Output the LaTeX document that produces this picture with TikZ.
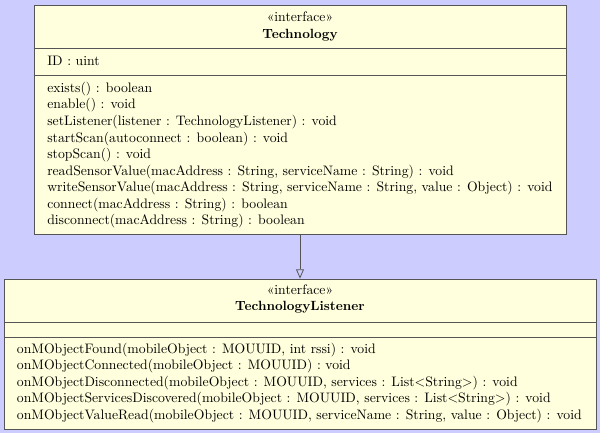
\documentclass[tikz,border=0pt]{standalone}
\usepackage{fontspec}
\usetikzlibrary{arrows.meta}

\definecolor{umlbg}{RGB}{204,204,255}
\definecolor{umlfill}{RGB}{255,255,221}
\definecolor{umlline}{RGB}{85,85,85}

\tikzset{
  umlbox/.style={draw=umlline, fill=umlfill, inner sep=0pt, semithick},
  umlrule/.style={draw=umlline, semithick},
  umlhead/.style={inner sep=0pt, anchor=base},
  umltext/.style={inner sep=0pt, anchor=base west, align=left},
}

\begin{document}
\begin{tikzpicture}[x=0.75pt, y=-0.75pt, font=\fontsize{10.3}{12.4}\selectfont]
  \useasboundingbox[fill=umlbg] (0,0) rectangle (600,433);

  % interface Technology
  \node[umlbox, minimum width=399pt, minimum height=171.75pt] (tech) at (300,119.5) {};
  \path[umlrule] (tech.west |- 0,48) -- (tech.east |- 0,48);
  \path[umlrule] (tech.west |- 0,75.5) -- (tech.east |- 0,75.5);
  \node[umlhead] (techStereo) at (300,21.5) {«interface»};
  \node[umlhead, font=\bfseries] (techName) at (300,38) {Technology};
  \node[umltext] (techAttr) at (47,65.3) {ID : uint};
  % base of the last line
  \node[umltext] (techOps) at (47,224.7) {exists() : boolean\\
    enable() : void\\
    setListener(listener : TechnologyListener) : void\\
    startScan(autoconnect : boolean) : void\\
    stopScan() : void\\
    readSensorValue(macAddress : String, serviceName : String) : void\\
    writeSensorValue(macAddress : String, serviceName : String, value : Object) : void\\
    connect(macAddress : String) : boolean\\
    disconnect(macAddress : String) : boolean};

  % interface TechnologyListener
  \node[umlbox, minimum width=444pt, minimum height=112.5pt] (listener) at (300,354) {};
  \path[umlrule] (listener.west |- 0,322) -- (listener.east |- 0,322);
  \path[umlrule] (listener.west |- 0,337) -- (listener.east |- 0,337);
  \node[umlhead] (listenerStereo) at (300,294) {«interface»};
  \node[umlhead, font=\bfseries] (listenerName) at (300,310.5) {TechnologyListener};
  \node[umltext] (listenerOps) at (16.7,419.5) {onMObjectFound(mobileObject : MOUUID, int rssi) : void\\
    onMObjectConnected(mobileObject : MOUUID) : void\\
    onMObjectDisconnected(mobileObject : MOUUID, services : List<String>) : void\\
    onMObjectServicesDiscovered(mobileObject : MOUUID, services : List<String>) : void\\
    onMObjectValueRead(mobileObject : MOUUID, serviceName : String, value : Object) : void};

  % realization
  \path[draw, umlline, semithick, -{Triangle[open, width=6pt, length=7pt]}] (tech.south) -- (listener.north);
\end{tikzpicture}
\end{document}
